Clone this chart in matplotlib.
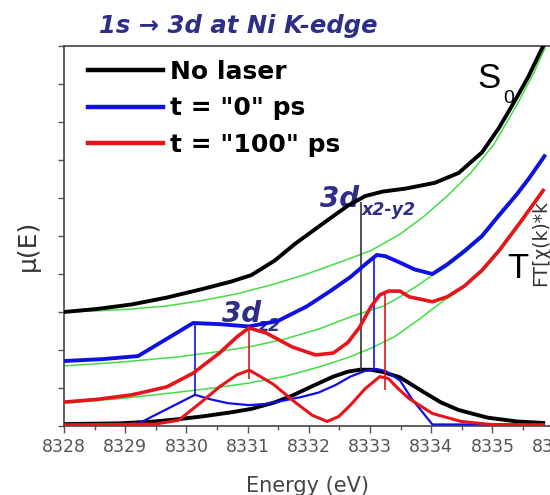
import numpy as np
import matplotlib.pyplot as plt
from matplotlib.ticker import MultipleLocator

# Ni K-edge pre-edge spectra (energy in eV, mu in arb. units)
black_e = [8328.0, 8328.54, 8329.11, 8329.68, 8330.25, 8330.73, 8331.06, 8331.44, 8331.78, 8332.25,
           8332.64, 8332.92, 8333.21, 8333.59, 8334.06, 8334.45, 8334.83, 8335.11, 8335.40, 8335.59,
           8335.83]
black_mu = [3.0, 3.08, 3.2, 3.38, 3.6, 3.8, 3.97, 4.35, 4.8, 5.35,
            5.8, 6.05, 6.17, 6.25, 6.4, 6.66, 7.2, 7.85, 8.65, 9.2,
            10.0]

blue_e = [8328.0, 8328.63, 8329.21, 8330.11, 8330.54, 8331.02, 8331.49, 8331.97, 8332.35, 8332.68,
          8332.92, 8333.11, 8333.25, 8333.49, 8333.73, 8334.02, 8334.26, 8334.54, 8334.83, 8335.11,
          8335.40, 8335.59, 8335.85]
blue_mu = [1.71, 1.76, 1.84, 2.71, 2.68, 2.62, 2.76, 3.15, 3.55, 3.92,
           4.25, 4.5, 4.47, 4.3, 4.12, 4.0, 4.25, 4.6, 5.0, 5.55,
           6.1, 6.5, 7.1]

red_e = [8328.0, 8328.54, 8329.11, 8329.68, 8330.11, 8330.54, 8330.83, 8331.02, 8331.30, 8331.73,
         8332.11, 8332.40, 8332.64, 8332.83, 8333.02, 8333.16, 8333.30, 8333.49, 8333.64, 8334.02,
         8334.26, 8334.54, 8334.83, 8335.11, 8335.45, 8335.83]
red_mu = [0.63, 0.7, 0.82, 1.03, 1.39, 1.92, 2.35, 2.58, 2.45, 2.08,
          1.87, 1.92, 2.2, 2.6, 3.15, 3.45, 3.55, 3.55, 3.4, 3.27,
          3.4, 3.68, 4.1, 4.62, 5.35, 6.2]

# edge backgrounds under each spectrum
bg0_e = [8328.0, 8328.54, 8329.11, 8329.68, 8330.25, 8330.83, 8331.40, 8331.97, 8332.54, 8333.02,
         8333.49, 8333.87, 8334.26, 8334.64, 8335.02, 8335.40, 8335.68, 8335.86]
bg0_mu = [3.0, 3.03, 3.08, 3.16, 3.3, 3.48, 3.72, 4.0, 4.33, 4.62,
          5.05, 5.5, 6.05, 6.65, 7.4, 8.45, 9.3, 9.95]

bg1_e = [8328.0, 8328.92, 8329.87, 8330.44, 8331.02, 8331.59, 8332.16, 8332.73, 8333.21, 8333.49,
         8333.78, 8334.02, 8334.26, 8334.54, 8334.83, 8335.11, 8335.40, 8335.59, 8335.85]
bg1_mu = [1.58, 1.68, 1.82, 1.94, 2.08, 2.28, 2.55, 2.9, 3.15, 3.4,
          3.7, 3.97, 4.2, 4.55, 4.95, 5.5, 6.05, 6.45, 7.05]

bg2_e = [8328.0, 8328.92, 8329.87, 8330.44, 8331.02, 8331.59, 8332.16, 8332.64, 8333.02, 8333.40,
         8333.78, 8334.16, 8334.49, 8334.83, 8335.11, 8335.45, 8335.83]
bg2_mu = [0.6, 0.72, 0.89, 1.0, 1.13, 1.3, 1.55, 1.8, 2.05, 2.35,
          2.78, 3.25, 3.6, 4.05, 4.57, 5.3, 6.15]

# background-subtracted pre-edge components
pk_black_e = [8328.0, 8328.92, 8329.49, 8329.87, 8330.25, 8330.73, 8331.06, 8331.44, 8331.73, 8332.06,
              8332.40, 8332.64, 8332.83, 8333.02, 8333.21, 8333.49, 8333.87, 8334.16, 8334.45, 8334.92,
              8335.40, 8335.83]
pk_black_mu = [0.05, 0.07, 0.12, 0.18, 0.25, 0.36, 0.45, 0.62, 0.8, 1.05,
               1.3, 1.43, 1.48, 1.48, 1.42, 1.28, 0.9, 0.62, 0.42, 0.22,
               0.12, 0.08]

pk_blue_e = [8328.0, 8329.21, 8330.14, 8330.40, 8330.68, 8331.02, 8331.30, 8331.59, 8331.87, 8332.16,
             8332.44, 8332.68, 8332.92, 8333.11, 8333.25, 8333.49, 8333.68, 8334.02, 8335.83]
pk_blue_mu = [0.05, 0.06, 0.82, 0.7, 0.6, 0.55, 0.58, 0.67, 0.76, 0.88,
              1.08, 1.3, 1.45, 1.5, 1.45, 1.2, 0.72, 0.04, 0.04]

pk_red_e = [8328.0, 8329.49, 8329.87, 8330.23, 8330.54, 8330.83, 8331.03, 8331.21, 8331.42, 8331.78,
            8332.06, 8332.30, 8332.49, 8332.68, 8332.92, 8333.16, 8333.30, 8333.45, 8333.64, 8334.02,
            8334.49, 8334.97, 8335.83]
pk_red_mu = [0.03, 0.05, 0.15, 0.61, 1.03, 1.35, 1.47, 1.3, 1.1, 0.62,
             0.28, 0.12, 0.25, 0.55, 0.98, 1.3, 1.25, 1.0, 0.72, 0.33,
             0.12, 0.04, 0.03]

# peak positions: energy, top, bottom
stick_e = [8330.14, 8331.03, 8332.85, 8333.07, 8333.25]
stick_top = [2.71, 2.58, 5.9, 4.48, 3.53]
stick_bot = [0.82, 1.25, 1.48, 1.48, 0.95]
stick_col = ['#1010e0', '#e0141b', '#333333', '#1010e0', '#e0141b']

BLACK = '#000000'
BLUE = '#1010e0'
RED = '#e8141b'
GREEN = '#44dd44'
NAVY = '#2e2e86'

fig = plt.figure(figsize=(5.5, 4.95), dpi=100)
ax = fig.add_axes([64/550, 69/495, 495.7/550, 380/495])

for e, m in [(bg0_e, bg0_mu), (bg1_e, bg1_mu), (bg2_e, bg2_mu)]:
    ax.plot(e, m, color=GREEN, lw=1.1, zorder=2)

ax.plot(pk_black_e, pk_black_mu, color=BLACK, lw=2.8, zorder=3)
ax.plot(pk_blue_e, pk_blue_mu, color=BLUE, lw=1.6, zorder=3)
ax.plot(pk_red_e, pk_red_mu, color=RED, lw=2.2, zorder=3)

ax.vlines(stick_e, stick_bot, stick_top, colors=stick_col, lw=1.2, zorder=3)

ax.plot(black_e, black_mu, color=BLACK, lw=2.8, zorder=4, label='No laser')
ax.plot(blue_e, blue_mu, color=BLUE, lw=2.8, zorder=4, label='t = "0" ps')
ax.plot(red_e, red_mu, color=RED, lw=2.6, zorder=4, label='t = "100" ps')

ax.set_xlim(8328, 8336.1)
ax.set_ylim(0, 10)
ax.xaxis.set_major_locator(MultipleLocator(1))
ax.xaxis.set_minor_locator(MultipleLocator(0.5))
ax.yaxis.set_major_locator(MultipleLocator(1))
ax.set_yticklabels([])
ax.tick_params(axis='x', which='major', direction='out', length=5, width=1,
               colors='#555555', labelsize=12.5, pad=4)
ax.tick_params(axis='x', which='minor', direction='out', length=3, width=1, colors='#555555')
ax.tick_params(axis='y', which='major', direction='out', length=4, width=1, colors='#555555')
ax.ticklabel_format(axis='x', useOffset=False)
for s in ax.spines.values():
    s.set_color('#444444')
    s.set_linewidth(1.2)
ax.spines['right'].set_visible(False)

ax.set_xlabel('Energy (eV)', fontsize=15, color='#444444', va='top')
ax.xaxis.set_label_coords((307 - 64) / 495.7, -(476 - 426) / 380)
ax.set_ylabel('μ(E)', fontsize=18, color='#333333')
ax.yaxis.set_label_coords(-(64 - 40) / 495.7, (426 - 245) / 380)

leg = ax.legend(loc='upper left', bbox_to_anchor=(24 / 495.7, 1 - 14 / 380), frameon=False,
                handlelength=3.0, handletextpad=0.28, labelspacing=0.5, borderpad=0,
                borderaxespad=0, prop={'family': 'DejaVu Sans', 'weight': 'bold', 'size': 18})
for line in leg.get_lines():
    line.set_linewidth(3.2)

fig.text(238 / 550, 1 - 26 / 495, '1s → 3d at Ni K-edge', ha='center', va='center',
         fontsize=17.5, fontweight='bold', fontstyle='italic', color=NAVY)

# state labels
ax.text(8334.75, 8.89, 'S', fontsize=25, family='Liberation Sans', va='baseline', zorder=5)
ax.text(8335.18, 8.5, '0', fontsize=14, family='Liberation Sans', va='baseline', zorder=5)
ax.text(8335.25, 3.89, 'T', fontsize=25, family='Liberation Sans', va='baseline', zorder=5)
ax.text(8335.79, 4.82, 'FT[χ(k)*k', fontsize=13.5, rotation=90, color='#333333',
        ha='center', va='center', zorder=5)

# orbital labels
ax.text(8332.18, 5.76, '3d', fontsize=20, fontweight='bold', fontstyle='italic',
        color=NAVY, va='baseline', zorder=1)
ax.text(8332.87, 5.55, 'x2-y2', fontsize=12.5, fontweight='bold', fontstyle='italic',
        color=NAVY, va='baseline', zorder=1)
ax.text(8330.58, 2.74, '3d', fontsize=20, fontweight='bold', fontstyle='italic',
        color=NAVY, va='baseline', zorder=1)
ax.text(8331.17, 2.5, 'z2', fontsize=12.5, fontweight='bold', fontstyle='italic',
        color=NAVY, va='baseline', zorder=1)

fig.savefig('out.png', dpi=100)
